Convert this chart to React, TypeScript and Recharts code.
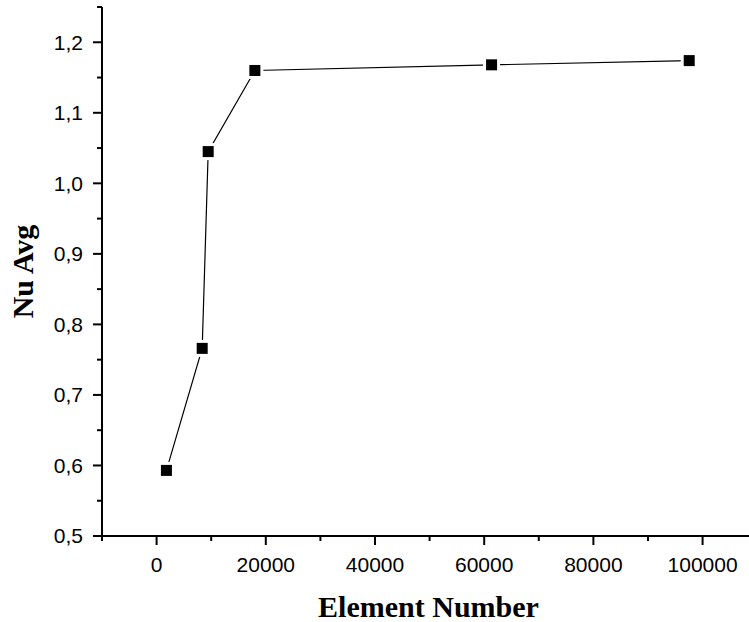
import React from "react";
import { LineChart, Line, XAxis, YAxis, Label } from "recharts";

const elementNumbers = [1800, 8350, 9450, 18000, 61350, 97550];
const nuAvg = [0.593, 0.766, 1.045, 1.16, 1.168, 1.174];

const xMajorTicks = [0, 20000, 40000, 60000, 80000, 100000];
const xMinorTicks = [-10000, 10000, 30000, 50000, 70000, 90000];
const yMajorTicks = [0.5, 0.6, 0.7, 0.8, 0.9, 1.0, 1.1, 1.2];
const yMinorTicks = [0.55, 0.65, 0.75, 0.85, 0.95, 1.05, 1.15, 1.25];

const xTitle = "Element Number";
const yTitle = "Nu Avg";

const data = elementNumbers.map((x, i) => ({ x, y: nuAvg[i] }));
const xTicks = [...xMajorTicks, ...xMinorTicks].sort((a, b) => a - b);
const yTicks = [...yMajorTicks, ...yMinorTicks].sort((a, b) => a - b);

const isIn = (arr: number[], v: number) => arr.some((t) => Math.abs(t - v) < 1e-9);

const TICK_FONT = "'Liberation Sans', Arial, sans-serif";
const TITLE_FONT = "'Liberation Serif', 'Times New Roman', serif";

const XTick = (props: any) => {
  const { x, y, payload } = props;
  const major = isIn(xMajorTicks, payload.value);
  return (
    <g>
      <line x1={x} x2={x} y1={y} y2={y + (major ? 9 : 5)} stroke="#000" strokeWidth={2} />
      {major && (
        <text x={x} y={y + 35.7} textAnchor="middle" fontFamily={TICK_FONT} fontSize={21} fill="#000">
          {String(payload.value)}
        </text>
      )}
    </g>
  );
};

const YTick = (props: any) => {
  const { x, y, payload } = props;
  const major = isIn(yMajorTicks, payload.value);
  return (
    <g>
      <line x1={x - (major ? 9 : 5)} x2={x} y1={y} y2={y} stroke="#000" strokeWidth={2} />
      {major && (
        <text x={x - 19} y={y} dy="0.35em" textAnchor="end" fontFamily={TICK_FONT} fontSize={21} fill="#000">
          {Number(payload.value).toFixed(1).replace(".", ",")}
        </text>
      )}
    </g>
  );
};

const SquareDot = (props: any) => {
  const { cx, cy, index } = props;
  if (cx == null || cy == null) return null;
  return (
    <g key={`dot-${index}`}>
      <rect x={cx - 8.5} y={cy - 8.5} width={17} height={17} fill="#fff" />
      <rect x={cx - 5.5} y={cy - 5.5} width={11} height={11} fill="#000" />
    </g>
  );
};

export default function App() {
  return (
    <div style={{ position: "absolute", left: 0, top: 0, width: 749, height: 622, background: "#fff" }}>
      <LineChart width={749} height={622} data={data} margin={{ top: 7, right: 0, bottom: 0, left: 0 }}>
        <XAxis
          dataKey="x"
          type="number"
          domain={[-10000, 108500]}
          allowDataOverflow
          ticks={xTicks}
          interval={0}
          tickSize={0}
          tickMargin={0}
          tickLine={false}
          axisLine={{ stroke: "#000", strokeWidth: 2 }}
          height={86}
          tick={<XTick />}
        >
          <Label
            content={(p: any) => {
              const vb = p.viewBox;
              return (
                <text
                  x={vb.x + vb.width / 2 + 3}
                  y={vb.y + 80.7}
                  textAnchor="middle"
                  fontFamily={TITLE_FONT}
                  fontWeight="bold"
                  fontSize={30}
                  fill="#000"
                >
                  {xTitle}
                </text>
              );
            }}
          />
        </XAxis>
        <YAxis
          type="number"
          domain={[0.5, 1.25]}
          allowDataOverflow
          ticks={yTicks}
          interval={0}
          tickSize={0}
          tickMargin={0}
          tickLine={false}
          axisLine={{ stroke: "#000", strokeWidth: 2 }}
          width={102}
          tick={<YTick />}
        >
          <Label
            content={(p: any) => {
              const vb = p.viewBox;
              const cy = vb.y + vb.height / 2;
              return (
                <text
                  x={33}
                  y={cy}
                  transform={`rotate(-90, 33, ${cy})`}
                  textAnchor="middle"
                  fontFamily={TITLE_FONT}
                  fontWeight="bold"
                  fontSize={30}
                  fill="#000"
                >
                  {yTitle}
                </text>
              );
            }}
          />
        </YAxis>
        <Line
          dataKey="y"
          stroke="#000"
          strokeWidth={1.2}
          dot={<SquareDot />}
          activeDot={false}
          isAnimationActive={false}
        />
      </LineChart>
    </div>
  );
}
